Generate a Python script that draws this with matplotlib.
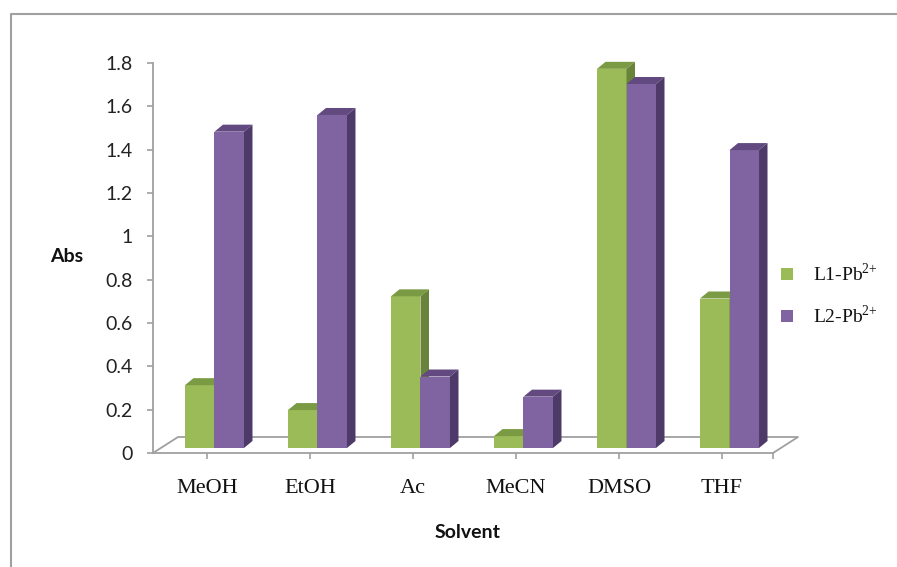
"""Absorbance of L1-Pb2+ and L2-Pb2+ complexes in different solvents (3D-style columns)."""
import matplotlib
matplotlib.use("Agg")
import matplotlib.pyplot as plt
from matplotlib.patches import Polygon, Rectangle
from matplotlib.lines import Line2D

solvents = ["MeOH", "EtOH", "Ac", "MeCN", "DMSO", "THF"]
l1_abs = [0.29, 0.175, 0.70, 0.055, 1.75, 0.69]
l2_abs = [1.46, 1.537, 0.33, 0.237, 1.68, 1.375]
series_names = ["L1-Pb$^{2{+}}$", "L2-Pb$^{2{+}}$"]
yticks = [0, 0.2, 0.4, 0.6, 0.8, 1.0, 1.2, 1.4, 1.6, 1.8]
ytick_labels = ["0", "0.2", "0.4", "0.6", "0.8", "1", "1.2", "1.4", "1.6", "1.8"]

W, H = 897, 567
GREEN = ("#9BBB59", "#7A9A43", "#67843A")   # front, top, side
PURPLE = ("#8064A2", "#624A80", "#4E3A68")
AXIS_GRAY = "#A0A0A0"

plt.rcParams["mathtext.fontset"] = "custom"
plt.rcParams["mathtext.rm"] = "Liberation Serif"

fig = plt.figure(figsize=(W / 100, H / 100), dpi=100)


def fx(px):
    return px / W


def fy(py):
    return 1 - py / H


# plot area in pixels: x 153..773, y 453 (zero) .. 63 (1.8)
ax = fig.add_axes([fx(153), fy(453), fx(773) - fx(153), fy(63) - fy(453)])
ax.set_ylim(0, 1.8)
ax.set_xlim(-0.524, 5.495)
ax.patch.set_alpha(0)

px_x = 103.0            # pixels per category unit
px_y = 390.0 / 1.8      # pixels per absorbance unit

# floor parallelogram
fdx, fdy = 25 / px_x, 16 / px_y
x0, x1 = ax.get_xlim()
floor = [(x0, 0), (x0 + fdx, fdy), (x1 + fdx, fdy), (x1, 0)]
ax.add_line(Line2D([p[0] for p in floor], [p[1] for p in floor],
                   color=AXIS_GRAY, lw=1.3, clip_on=False, zorder=1))

# columns
base = 5 / px_y
bw = 29.5 / px_x
shift = 7.5 / px_x
sdx, sdy = 8.5 / px_x, 7 / px_y


def column(xl, h, cols):
    front, top, side = cols
    yt = base + h
    ax.add_patch(Rectangle((xl, base), bw, h, facecolor=front,
                           edgecolor="none", clip_on=False, zorder=3))
    ax.add_patch(Polygon([(xl, yt), (xl + sdx, yt + sdy),
                          (xl + bw + sdx, yt + sdy), (xl + bw, yt)],
                         closed=True, facecolor=top, edgecolor="none",
                         clip_on=False, zorder=3))
    ax.add_patch(Polygon([(xl + bw, base), (xl + bw + sdx, base + sdy),
                          (xl + bw + sdx, yt + sdy), (xl + bw, yt)],
                         closed=True, facecolor=side, edgecolor="none",
                         clip_on=False, zorder=3))


for i in range(len(solvents)):
    c = i + shift
    column(c - bw, l1_abs[i], GREEN)
    column(c, l2_abs[i], PURPLE)

# axes styling
for s in ["top", "right"]:
    ax.spines[s].set_visible(False)
for s in ["left", "bottom"]:
    ax.spines[s].set_color(AXIS_GRAY)
    ax.spines[s].set_linewidth(1.3)

ax.set_yticks(yticks)
ax.set_yticklabels(ytick_labels, fontfamily="Lato", fontsize=14, color="#222222")
ax.set_xticks(range(len(solvents)))
ax.set_xticklabels(solvents, fontfamily="Liberation Serif", fontsize=16,
                   color="#111111")
ax.set_xticks([x1], minor=True)
ax.tick_params(axis="y", direction="out", length=4.5, width=1.2,
               color=AXIS_GRAY, pad=10)
ax.tick_params(axis="x", which="both", direction="out", length=4.5,
               width=1.2, color=AXIS_GRAY, pad=14)

fig.text(fx(67), fy(257), "Abs", fontfamily="Lato", fontweight="bold",
         fontsize=14, ha="center", va="center", color="#111111")
fig.text(fx(468), fy(533), "Solvent", fontfamily="Lato", fontweight="bold",
         fontsize=14, ha="center", va="center", color="#111111")

# legend
for name, cols, yc in zip(series_names, [GREEN, PURPLE], [274, 316]):
    fig.add_artist(Rectangle((fx(781), fy(yc + 6)), fx(12), 12 / H,
                             facecolor=cols[0], edgecolor="none",
                             transform=fig.transFigure))
    fig.text(fx(813), fy(yc), name, fontfamily="Liberation Serif",
             fontsize=14, ha="left", va="center", color="#111111")

# chart border
fig.add_artist(Line2D([fx(11), fx(11), fx(W + 5)], [fy(H + 5), fy(14), fy(14)],
                      color=AXIS_GRAY, lw=1.5, transform=fig.transFigure))

fig.savefig("out.png", dpi=100)
